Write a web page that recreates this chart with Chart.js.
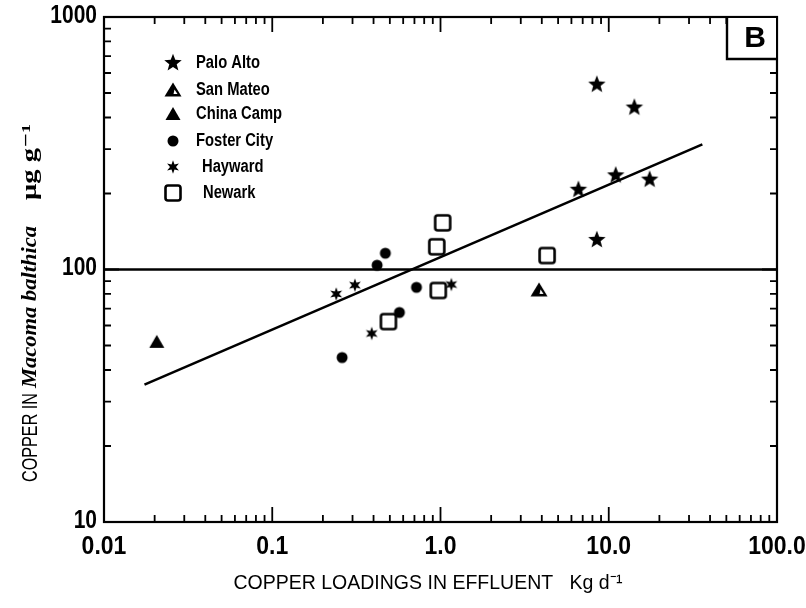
<!DOCTYPE html>
<html>
<head>
<meta charset="utf-8">
<script src="https://cdn.jsdelivr.net/npm/chart.js@4.4.1/dist/chart.umd.min.js"></script>
<style>
  html, body { margin: 0; padding: 0; background: #fff; }
  #wrap { width: 806px; height: 608px; }
</style>
</head>
<body>
<div id="wrap"><canvas id="c" width="806" height="608"></canvas></div>
<script>
// Axis ticks
const xTickValues = [0.01, 0.1, 1, 10, 100];
const xTickLabels = ['0.01', '0.1', '1.0', '10.0', '100.0'];
const yTickValues = [10, 100, 1000];
const yTickLabels = ['10', '100', '1000'];

// Copper loading in effluent (kg/d) and copper in Macoma balthica (ug/g), by site
const paloAltoLoad = [8.5, 14.2, 6.6, 11.0, 17.5, 8.5];
const paloAltoCu   = [540, 438, 207, 236, 227, 131];

const sanMateoLoad = [3.85];
const sanMateoCu   = [83];

const chinaCampLoad = [0.0206];
const chinaCampCu   = [51.7];

const fosterCityLoad = [0.47, 0.42, 0.72, 0.57, 0.26];
const fosterCityCu   = [116, 104, 85, 67.6, 44.8];

const haywardLoad = [0.24, 0.31, 0.39, 1.16];
const haywardCu   = [80, 86.7, 55.8, 87.2];

const newarkLoad = [1.03, 0.95, 4.3, 0.97, 0.49];
const newarkCu   = [153, 123, 113.6, 82.6, 62.2];

// Fitted regression line and the 100 ug/g reference level
const fitLoad = [0.0174, 36];
const fitCu   = [35.0, 313];
const refLoad = [0.01, 100];
const refCu   = [100, 100];

const siteNames = ['Palo Alto', 'San Mateo', 'China Camp', 'Foster City', 'Hayward', 'Newark'];

const SANS = "'Liberation Sans', Arial, Helvetica, sans-serif";
const SERIF = "'Liberation Serif', 'DejaVu Serif', serif";

function pairs(xs, ys) { return xs.map((x, i) => ({ x: x, y: ys[i] })); }

// ---- marker glyphs ----
function glyph(size, draw) {
  const cv = document.createElement('canvas');
  cv.width = size; cv.height = size;
  const g = cv.getContext('2d');
  g.translate(size / 2, size / 2);
  draw(g);
  return cv;
}
function starPath(g, n, ro, ri) {
  g.beginPath();
  for (let i = 0; i < 2 * n; i++) {
    const r = i % 2 === 0 ? ro : ri;
    const a = -Math.PI / 2 + i * Math.PI / n;
    const px = r * Math.cos(a), py = r * Math.sin(a);
    if (i === 0) g.moveTo(px, py); else g.lineTo(px, py);
  }
  g.closePath();
}
const mkPalo = glyph(22, g => { starPath(g, 5, 9.2, 3.9); g.fillStyle = '#000'; g.fill(); });
const mkSanMateo = glyph(22, g => {
  g.fillStyle = '#000';
  g.beginPath(); g.moveTo(0, -7.5); g.lineTo(8.5, 6.5); g.lineTo(-8.5, 6.5); g.closePath(); g.fill();
  g.fillStyle = '#fff';
  g.beginPath(); g.moveTo(1.5, -0.5); g.lineTo(4.5, 4); g.lineTo(0.5, 4); g.closePath(); g.fill();
});
const mkChina = glyph(22, g => {
  g.fillStyle = '#000';
  g.beginPath(); g.moveTo(0, -7); g.lineTo(7.5, 6); g.lineTo(-7.5, 6); g.closePath(); g.fill();
});
const mkFoster = glyph(16, g => { g.fillStyle = '#000'; g.beginPath(); g.arc(0, 0, 5.5, 0, Math.PI * 2); g.fill(); });
const mkHayward = glyph(18, g => { starPath(g, 6, 6.8, 3); g.fillStyle = '#000'; g.fill(); });
const mkNewark = glyph(22, g => {
  g.lineWidth = 2.6; g.strokeStyle = '#000'; g.fillStyle = '#fff';
  g.beginPath();
  if (g.roundRect) g.roundRect(-7.5, -7.5, 15, 15, 2.5); else g.rect(-7.5, -7.5, 15, 15);
  g.fill(); g.stroke();
});
const markers = [mkPalo, mkSanMateo, mkChina, mkFoster, mkHayward, mkNewark];

function siteSet(name, xs, ys, mk) {
  return { label: name, data: pairs(xs, ys), pointStyle: mk, pointRadius: 8, pointHoverRadius: 8, showLine: false };
}

// draws text squeezed horizontally, like a condensed face
function narrowText(ctx, text, x, y, sx) {
  ctx.save();
  ctx.translate(x, y);
  ctx.scale(sx, 1);
  ctx.fillText(text, 0, 0);
  ctx.restore();
}

// ---- frame, log ticks, tick labels, panel tag, key and axis titles ----
const decor = {
  id: 'decor',
  afterDatasetsDraw(chart) {
    const ctx = chart.ctx;
    const a = chart.chartArea;
    const xs = chart.scales.x, ys = chart.scales.y;
    ctx.save();
    ctx.strokeStyle = '#000';
    ctx.fillStyle = '#000';

    // log tick marks pointing inward on all four sides
    ctx.lineWidth = 1.8;
    const majorLen = 15, minorLen = 7;
    ctx.beginPath();
    for (let k = -2; k <= 2; k++) {
      for (let m = 1; m <= 9; m++) {
        const v = m * Math.pow(10, k);
        if (v > 100.0001) break;
        const px = xs.getPixelForValue(v);
        const len = m === 1 ? majorLen : minorLen;
        ctx.moveTo(px, a.bottom); ctx.lineTo(px, a.bottom - len);
        ctx.moveTo(px, a.top); ctx.lineTo(px, a.top + len);
      }
    }
    for (let k = 1; k <= 3; k++) {
      for (let m = 1; m <= 9; m++) {
        const v = m * Math.pow(10, k);
        if (v > 1000.0001) break;
        const py = ys.getPixelForValue(v);
        const len = m === 1 ? majorLen : minorLen;
        ctx.moveTo(a.left, py); ctx.lineTo(a.left + len, py);
        ctx.moveTo(a.right, py); ctx.lineTo(a.right - len, py);
      }
    }
    ctx.stroke();

    // plot frame
    ctx.lineWidth = 2.2;
    ctx.strokeRect(a.left, a.top, a.right - a.left, a.bottom - a.top);

    // tick labels (condensed bold)
    ctx.font = `bold 25px ${SANS}`;
    ctx.textBaseline = 'middle';
    ctx.textAlign = 'left';
    xTickValues.forEach((v, i) => {
      const px = xs.getPixelForValue(v);
      const w = ctx.measureText(xTickLabels[i]).width * 0.92;
      narrowText(ctx, xTickLabels[i], px - w / 2, a.bottom + 25, 0.92);
    });
    yTickValues.forEach((v, i) => {
      const py = ys.getPixelForValue(v);
      const w = ctx.measureText(yTickLabels[i]).width * 0.84;
      narrowText(ctx, yTickLabels[i], a.left - 7 - w, py - 1, 0.84);
    });

    // panel tag
    ctx.lineWidth = 2.4;
    ctx.fillStyle = '#fff';
    ctx.fillRect(a.right - 50, a.top + 1, 49, 41);
    ctx.beginPath();
    ctx.moveTo(a.right - 50, a.top); ctx.lineTo(a.right - 50, a.top + 42); ctx.lineTo(a.right, a.top + 42);
    ctx.stroke();
    ctx.fillStyle = '#000';
    ctx.font = `bold 30px ${SANS}`;
    ctx.textAlign = 'center';
    ctx.textBaseline = 'middle';
    ctx.fillText('B', a.right - 22, a.top + 22);

    // key
    const keyY = [63, 90, 114, 141, 167, 193];
    const keyTx = [196, 196, 196, 196, 202, 203];
    ctx.font = `bold 18px ${SANS}`;
    ctx.textAlign = 'left';
    ctx.textBaseline = 'middle';
    siteNames.forEach((n, i) => {
      const mk = markers[i];
      ctx.drawImage(mk, 173 - mk.width / 2, keyY[i] - mk.height / 2);
      narrowText(ctx, n, keyTx[i], keyY[i], 0.82);
    });

    // x-axis title
    ctx.font = `21px ${SANS}`;
    const xt = 'COPPER LOADINGS IN EFFLUENT   Kg d\u207B\u00B9';
    const xw = ctx.measureText(xt).width;
    narrowText(ctx, xt, 428 - 389 / 2, 583, 389 / xw);

    // y-axis title with italic species name; each piece fitted to its span
    const parts = [
      { t: 'COPPER IN', f: `22px ${SANS}`, from: 482, to: 393 },
      { t: 'Macoma balthica', f: `italic bold 21px ${SERIF}`, from: 388, to: 226 },
      { t: '\u03BCg g\u207B\u00B9', f: `bold 21px ${SERIF}`, from: 200, to: 124 }
    ];
    ctx.translate(31, 0);
    ctx.rotate(-Math.PI / 2);
    parts.forEach(p => {
      ctx.font = p.f;
      const w = ctx.measureText(p.t).width;
      narrowText(ctx, p.t, -p.from, 0, (p.from - p.to) / w);
    });
    ctx.restore();
  }
};

const chart = new Chart(document.getElementById('c'), {
  type: 'scatter',
  data: {
    datasets: [
      siteSet(siteNames[0], paloAltoLoad, paloAltoCu, mkPalo),
      siteSet(siteNames[1], sanMateoLoad, sanMateoCu, mkSanMateo),
      siteSet(siteNames[2], chinaCampLoad, chinaCampCu, mkChina),
      siteSet(siteNames[3], fosterCityLoad, fosterCityCu, mkFoster),
      siteSet(siteNames[4], haywardLoad, haywardCu, mkHayward),
      siteSet(siteNames[5], newarkLoad, newarkCu, mkNewark),
      { label: 'fit', data: pairs(fitLoad, fitCu), showLine: true, pointRadius: 0, borderColor: '#000', borderWidth: 2.6, fill: false },
      { label: 'reference', data: pairs(refLoad, refCu), showLine: true, pointRadius: 0, borderColor: '#000', borderWidth: 2.6, fill: false }
    ]
  },
  options: {
    responsive: false,
    animation: false,
    devicePixelRatio: 1,
    layout: { padding: { top: 17, right: 29, left: 0, bottom: 0 } },
    plugins: { legend: { display: false }, tooltip: { enabled: false } },
    scales: {
      x: {
        type: 'logarithmic',
        min: 0.01, max: 100,
        grid: { display: false },
        border: { display: false },
        afterBuildTicks: s => { s.ticks = xTickValues.map(v => ({ value: v })); },
        afterFit: s => { s.height = 86; s.paddingLeft = 0; s.paddingRight = 0; },
        ticks: { display: false }
      },
      y: {
        type: 'logarithmic',
        min: 10, max: 1000,
        grid: { display: false },
        border: { display: false },
        afterBuildTicks: s => { s.ticks = yTickValues.map(v => ({ value: v })); },
        afterFit: s => { s.width = 104; s.paddingTop = 0; s.paddingBottom = 0; },
        ticks: { display: false }
      }
    }
  },
  plugins: [decor]
});
</script>
</body>
</html>
